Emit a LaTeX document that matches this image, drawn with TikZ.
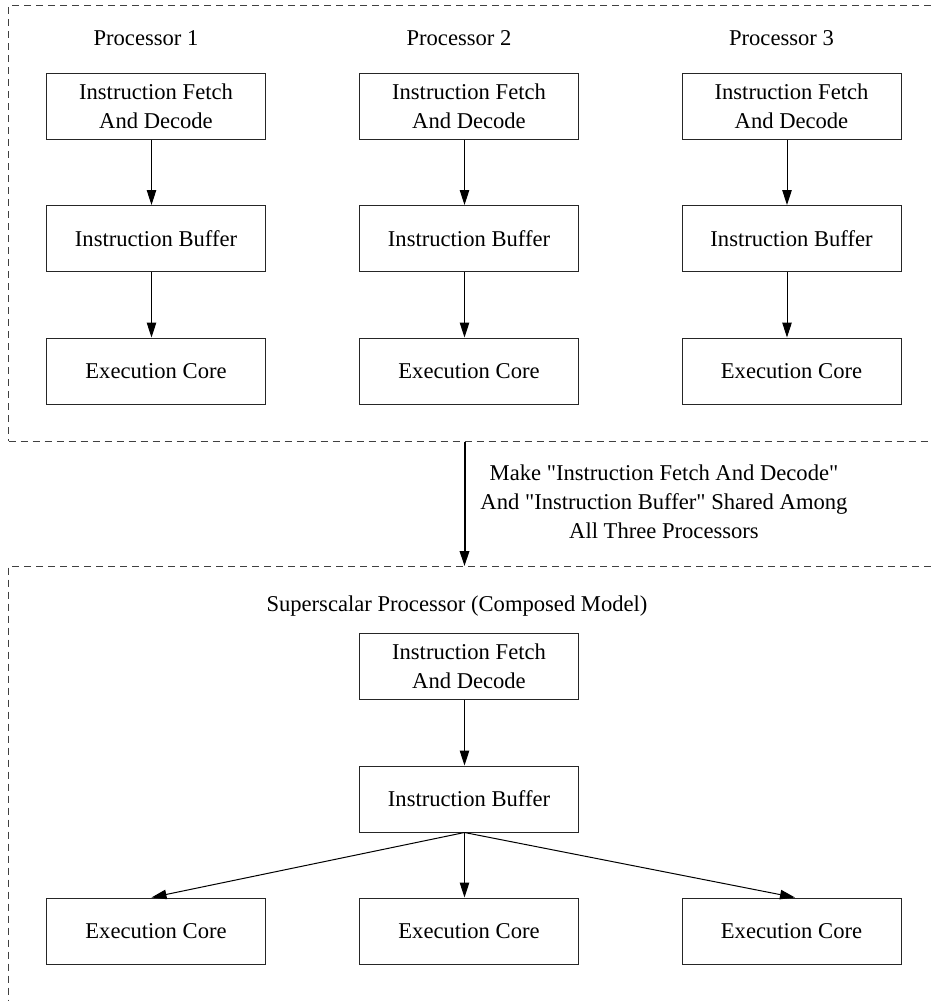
\documentclass[tikz,border=0pt]{standalone}
\usepackage{fontspec}
\setmainfont{Liberation Serif}[Ligatures=TeXOff]
\usetikzlibrary{arrows.meta}
\begin{document}
\begin{tikzpicture}[x=1pt,y=-1pt,
  every node/.style={font=\fontsize{22.6}{29}\selectfont},
  unit/.style={draw=black!85, line width=1pt, minimum width=219pt, minimum height=66pt,
               inner sep=0pt, align=center},
  flow/.style={line width=1pt, -{Triangle[length=15pt,width=9.5pt]}},
  bigflow/.style={line width=2pt, -{Triangle[length=15pt,width=9.5pt]}},
  frame/.style={line width=1pt, draw=black!75, dash pattern=on 7pt off 5pt},
  caption/.style={inner sep=0pt, align=center}]
\useasboundingbox (0,0) rectangle (931,1001);

% separate processors
\draw[frame] (931,5.5) -- (8.5,5.5) -- (8.5,441);
\draw[frame] (8.5,441) -- (931,441);

\foreach \n/\x in {1/156, 2/469, 3/791.5} {
  \node[caption] (p\n) at (\x-10,38) {Processor \n};
  \node[unit] (ifd\n) at (\x,106) {Instruction Fetch\\And Decode};
  \node[unit] (ib\n)  at (\x,238.5) {Instruction Buffer};
  \node[unit] (ec\n)  at (\x,371) {Execution Core};
  \draw[flow] ([xshift=-4.5pt]ifd\n.south) -- ([xshift=-4.5pt]ib\n.north);
  \draw[flow] ([xshift=-4.5pt]ib\n.south) -- ([xshift=-4.5pt]ec\n.north);
}

% transformation step
\coordinate (split) at (464.5,442);
\coordinate (join) at (464.5,566);
\draw[bigflow] (split) -- (join);
\node[caption] (note) at (664,501.5)
  {Make "Instruction Fetch And Decode"\\And "Instruction Buffer" Shared Among\\All Three Processors};

% composed superscalar model
\draw[frame] (931,566) -- (8.5,566) -- (8.5,1001);
\node[caption] (sp) at (457,606) {Superscalar Processor (Composed Model)};
\node[unit] (sifd) at (469,666) {Instruction Fetch\\And Decode};
\node[unit] (sib)  at (469,799) {Instruction Buffer};
\node[unit] (sec1) at (156,931) {Execution Core};
\node[unit] (sec2) at (469,931) {Execution Core};
\node[unit] (sec3) at (791.5,931) {Execution Core};
\draw[flow] ([xshift=-4.5pt]sifd.south) -- ([xshift=-4.5pt]sib.north);
\draw[flow] ([xshift=-4.5pt]sib.south) -- ([xshift=-4.5pt]sec1.north);
\draw[flow] ([xshift=-4.5pt]sib.south) -- ([xshift=-4.5pt]sec2.north);
\draw[flow] ([xshift=-4.5pt]sib.south) -- ([xshift=3.5pt]sec3.north);
\end{tikzpicture}
\end{document}
